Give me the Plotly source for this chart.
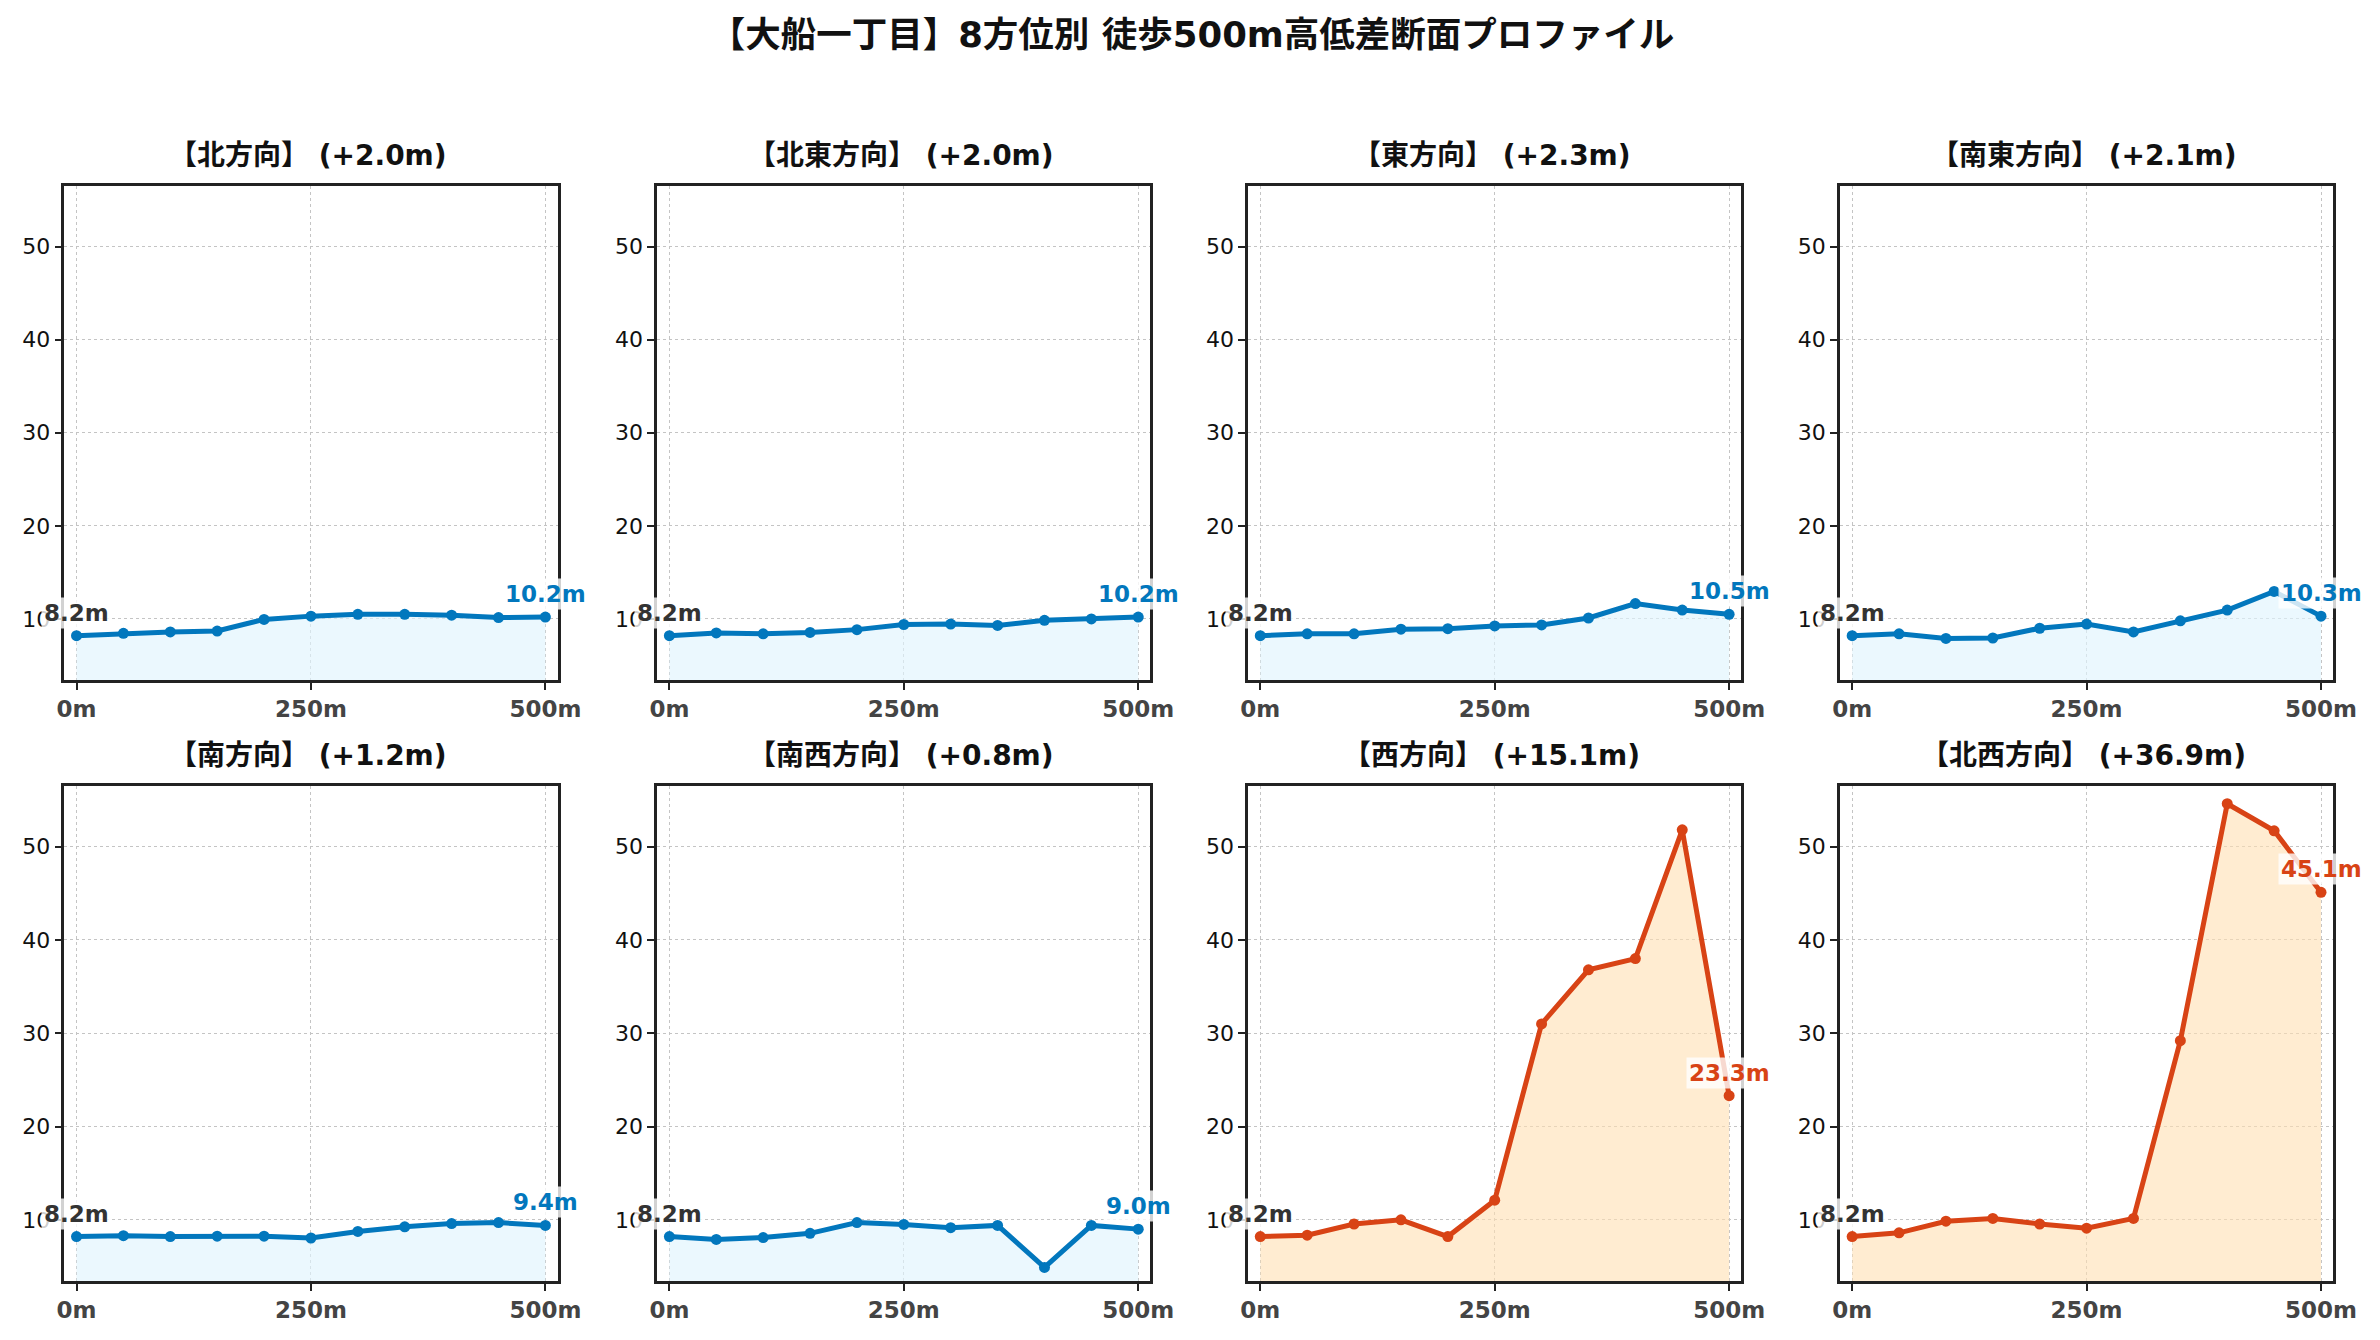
import plotly.graph_objects as go

# data :
distances = [0, 50, 100, 150, 200, 250, 300, 350, 400, 450, 500]
directions = ["北", "北東", "東", "南東", "南", "南西", "西", "北西"]

elev_n = [8.2, 8.45, 8.6, 8.7, 9.95, 10.3, 10.5, 10.5, 10.4, 10.15, 10.2]
elev_ne = [8.2, 8.5, 8.4, 8.55, 8.85, 9.4, 9.45, 9.3, 9.85, 10.0, 10.2]
elev_e = [8.2, 8.4, 8.4, 8.9, 8.95, 9.25, 9.35, 10.1, 11.65, 10.95, 10.5]
elev_se = [8.2, 8.4, 7.9, 7.95, 9.0, 9.45, 8.6, 9.8, 10.95, 12.95, 10.3]
elev_s = [8.2, 8.3, 8.2, 8.25, 8.25, 8.05, 8.75, 9.25, 9.6, 9.7, 9.4]
elev_sw = [8.2, 7.9, 8.1, 8.55, 9.7, 9.5, 9.15, 9.4, 4.9, 9.4, 9.0]
elev_w = [8.2, 8.35, 9.55, 10.0, 8.2, 12.1, 31.0, 36.8, 38.0, 51.8, 23.3]
elev_nw = [8.2, 8.6, 9.85, 10.15, 9.55, 9.1, 10.15, 29.2, 54.6, 51.7, 45.1]

profiles = [elev_n, elev_ne, elev_e, elev_se, elev_s, elev_sw, elev_w, elev_nw]

# style :
FONT = "DejaVu Sans, Noto Sans CJK JP, sans-serif"
BLUE, BLUE_FILL = "#0277BD", "rgba(225,245,254,0.65)"
RED, RED_FILL = "#D84315", "rgba(255,224,178,0.6)"
W, H = 2364, 1320
# frame edges in figure pixels
col_px = [(49, 549), (650, 1150), (1249, 1749), (1849, 2349)]
row_px = [(178, 672), (778, 1273)]


def px_x(v):
    return v / W


def px_y(v):
    return 1 - v / H


fig = go.Figure()

for i, (name, elev) in enumerate(zip(directions, profiles)):
    r, c = divmod(i, 4)
    n = i + 1
    xa = "x" if n == 1 else f"x{n}"
    ya = "y" if n == 1 else f"y{n}"
    diff = elev[-1] - elev[0]
    steep = diff > 10
    color = RED if steep else BLUE
    fill = RED_FILL if steep else BLUE_FILL

    fig.add_trace(go.Scatter(
        x=distances, y=elev, xaxis=xa, yaxis=ya, mode="lines+markers",
        line=dict(color=color, width=5), marker=dict(color=color, size=11),
        fill="tozeroy", fillcolor=fill, showlegend=False))

    x0, x1 = col_px[c]
    y0, y1 = row_px[r]
    fig.layout[f"xaxis{'' if n == 1 else n}"] = dict(
        domain=[px_x(x0), px_x(x1)], anchor=ya, range=[-13, 513],
        tickvals=[0, 250, 500], ticktext=["0m", "250m", "500m"],
        tickfont=dict(family=FONT, size=23, color="#444", weight="bold"),
        ticks="outside", ticklen=7, tickwidth=2, tickcolor="#222",
        showline=True, linecolor="#222", linewidth=2.5, mirror=True,
        showgrid=True, gridcolor="#c4c4c4", griddash="dot", gridwidth=1.4,
        zeroline=False)
    fig.layout[f"yaxis{'' if n == 1 else n}"] = dict(
        domain=[px_y(y1), px_y(y0)], anchor=xa, range=[3.44, 56.5],
        tickvals=[10, 20, 30, 40, 50],
        tickfont=dict(family=FONT, size=22, color="#111"),
        ticks="outside", ticklen=7, tickwidth=2, tickcolor="#222",
        showline=True, linecolor="#222", linewidth=2.5, mirror=True,
        showgrid=True, gridcolor="#c4c4c4", griddash="dot", gridwidth=1.4,
        zeroline=False)

    # subplot title
    fig.add_annotation(
        text=f"<b>【{name}方向】 ({diff:+.1f}m)</b>", xref="paper", yref="paper",
        x=px_x((x0 + x1) / 2 - 3), y=px_y(y0 - 12), xanchor="center",
        yanchor="bottom", showarrow=False,
        font=dict(family=FONT, size=28, color="#111"))
    # start / end labels
    fig.add_annotation(
        text=f"<b>{elev[0]:.1f}m</b>", x=distances[0], y=elev[0],
        xref=xa, yref=ya, xanchor="center", yanchor="bottom", yshift=7,
        showarrow=False, bgcolor="rgba(255,255,255,0.8)", borderpad=2,
        font=dict(family=FONT, size=23, color="#333"))
    fig.add_annotation(
        text=f"<b>{elev[-1]:.1f}m</b>", x=distances[-1], y=elev[-1],
        xref=xa, yref=ya, xanchor="center", yanchor="bottom", yshift=7,
        showarrow=False, bgcolor="rgba(255,255,255,0.8)", borderpad=2,
        font=dict(family=FONT, size=23, color=color))

fig.update_layout(
    width=W, height=H, margin=dict(l=0, r=0, t=0, b=0),
    paper_bgcolor="white", plot_bgcolor="white",
    title=dict(text="<b>【大船一丁目】8方位別 徒歩500m高低差断面プロファイル</b>",
               x=px_x(1184), xanchor="center", y=px_y(27), yanchor="middle",
               font=dict(family=FONT, size=35.5, color="#111")))

fig.write_html("out.html")
